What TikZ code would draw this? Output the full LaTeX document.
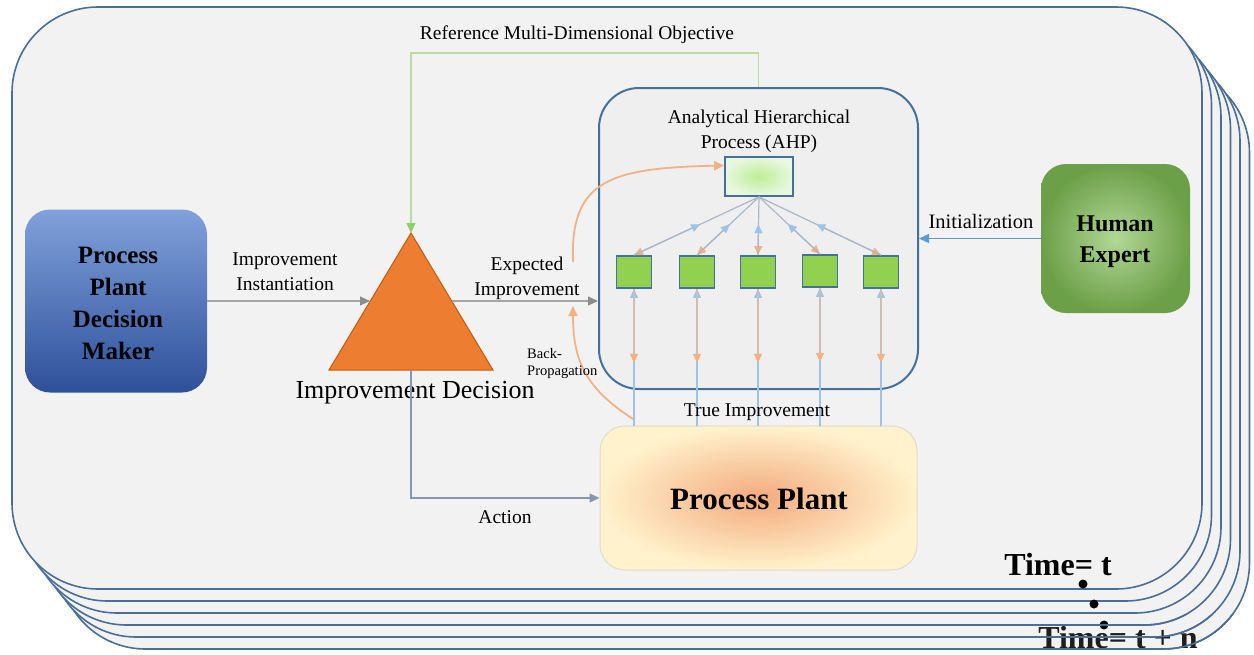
\documentclass[tikz,border=0pt]{standalone}
\usepackage{fontspec}
\setmainfont{Liberation Serif}
\usetikzlibrary{arrows.meta,calc}
\definecolor{bgcol}{HTML}{F2F2F2}
\definecolor{framecol}{HTML}{4A6E96}
\definecolor{ahpborder}{HTML}{41719C}
\definecolor{arrgray}{HTML}{A6A6A6}
\definecolor{arrgraytip}{HTML}{8C8C8C}
\definecolor{actcol}{HTML}{8497B0}
\definecolor{objgreen}{HTML}{B9DBA2}
\definecolor{objarrow}{HTML}{8FCF6A}
\definecolor{orangec}{HTML}{F4B183}
\definecolor{lightblue}{HTML}{9DC3E6}
\definecolor{initblue}{HTML}{5B9BD5}
\definecolor{sqgreen}{HTML}{92D050}
\definecolor{trifill}{HTML}{ED7D31}
\definecolor{triborder}{HTML}{C55A11}
\definecolor{linkgray}{HTML}{AAB7C9}
\definecolor{vorangeline}{HTML}{CDBDB2}
\definecolor{dmtop}{RGB}{128,161,218}
\definecolor{dmbottom}{RGB}{46,80,154}
\begin{document}
\begin{tikzpicture}[x=1pt,y=-1pt,
  frame/.style={draw=framecol, line width=1.6pt, fill=bgcol, rounded corners=86pt},
  frameline/.style={draw=framecol, line width=1.6pt, rounded corners=86pt},
  lbl/.style={font=\fontsize{19.5}{25}\selectfont, align=center, inner sep=0pt},
  boldlbl/.style={font=\bfseries\fontsize{25}{32}\selectfont, align=center, inner sep=0pt},
  tip/.style={-{Triangle[length=10pt,width=9pt,color=#1]}},
  grayarrow/.style={draw=arrgray, line width=1.3pt, tip=arrgraytip},
  actarrow/.style={draw=actcol, line width=1.3pt, tip=actcol},
  objarrowst/.style={draw=objgreen, line width=1.3pt, tip=objarrow},
  initarrow/.style={draw=initblue, line width=1.3pt, tip=initblue},
  orangecurve/.style={draw=orangec, line width=1.8pt, tip=orangec},
  link/.style={draw=linkgray, line width=1.2pt},
  sqbox/.style={draw=ahpborder, line width=1.8pt, fill=sqgreen, minimum width=35pt, minimum height=32pt, inner sep=0pt},
  dot/.style={fill=black, circle, inner sep=0pt, minimum size=9pt}
]
\useasboundingbox (0,0) rectangle (1254,654);
\fill[white] (0,0) rectangle (1254,654);

% stacked frames
\foreach \i in {5,4,3,2,1}
  \draw[frame] ({12+9.5*\i},{7+12*\i}) rectangle ({1202+9.5*\i},{589+12*\i});
\draw[frame] (12,7) rectangle (1202,589);

% main boxes
\node[rounded corners=25pt, top color=dmtop, bottom color=dmbottom,
      minimum width=182pt, minimum height=183pt, inner sep=0pt] (dm) at (116,301) {};
\node[boldlbl] (dmtext) at (118,303) {Process\\Plant\\Decision\\Maker};

\node[draw=ahpborder, line width=2pt, fill={rgb,255:red,239;green,239;blue,239}, rounded corners=40pt,
      minimum width=319pt, minimum height=301pt, inner sep=0pt] (ahp) at (758.5,238.5) {};
\node[lbl] (ahptitle) at (759,131) {Analytical Hierarchical\\Process (AHP)};
\node[draw=ahpborder, line width=1.8pt, inner color={rgb,255:red,190;green,238;blue,150}, outer color={rgb,255:red,232;green,247;blue,222},
      minimum width=68pt, minimum height=39pt, inner sep=0pt] (tb) at (759,176.5) {};

\node[sqbox] (sq1) at (634,272) {};
\node[sqbox] (sq2) at (697,272) {};
\node[sqbox] (sq3) at (758,272) {};
\node[sqbox] (sq4) at (820,271) {};
\node[sqbox] (sq5) at (881,272) {};

\node[draw={rgb,255:red,222;green,222;blue,200}, line width=1pt, rounded corners=25pt,
      inner color={rgb,255:red,244;green,170;blue,125}, outer color={rgb,255:red,255;green,242;blue,204},
      minimum width=317pt, minimum height=144pt, inner sep=0pt] (pp) at (758.5,498) {};
\node[font=\bfseries\fontsize{31}{36}\selectfont, inner sep=0pt] (pptext) at (759,499) {Process Plant};

\node[rounded corners=25pt, inner color={rgb,255:red,178;green,216;blue,150}, outer color={rgb,255:red,108;green,160;blue,72},
      minimum width=149pt, minimum height=149pt, inner sep=0pt] (he) at (1115.5,238.5) {};
\node[font=\bfseries\fontsize{24}{31}\selectfont, align=center, inner sep=0pt] (hetext) at (1115,242) {Human\\Expert};

% triangle
\coordinate (apex) at (411,233);
\coordinate (tbl) at (329,370);
\coordinate (tbr) at (493,370);
\coordinate (triL) at (370,301);
\coordinate (triR) at (452,301);
\coordinate (triB) at (411,370);
\draw[fill=trifill, draw=triborder, line width=1pt, line join=miter] (apex) -- (tbl) -- (tbr) -- cycle;
\node[font=\fontsize{26}{30}\selectfont, inner sep=0pt] (decision) at (415,393) {Improvement Decision};

% connectors
\draw[grayarrow] (dm.east |- triL) -- (triL);
\node[lbl] (instlbl) at (285,272) {Improvement\\Instantiation};
\draw[grayarrow] (triR) -- (triR -| ahp.west);
\node[lbl] (explbl) at (527,278) {Expected\\Improvement};
\draw[actarrow] (triB) |- (pp.west);
\node[lbl] (actlbl) at (505,517) {Action};
\draw[objarrowst] (ahp.north) -- ++(0,-34) -| (apex);
\node[lbl] (objlbl) at (577,35) {Reference Multi-Dimensional Objective};
\draw[initarrow] (he.west) -- (he.west -| ahp.east);
\node[lbl, font=\fontsize{20.5}{25}\selectfont] (initlbl) at (981,221) {Initialization};

% AHP hierarchy links
\foreach \s in {sq1,sq2,sq3,sq4,sq5} {
  \draw[link, -{Triangle[length=9pt,width=8pt,color=orangec]}] (tb.south) -- (\s.north);
  \draw[link, -{Triangle[length=9pt,width=8pt,color=lightblue]}] (\s.north) -- ($(tb.south)!0.47!(\s.north)$);
  \draw[draw=lightblue, line width=1.2pt, -{Triangle[length=9pt,width=8pt,color=lightblue]}] (\s.south |- pp.north) -- (\s.south);
  \draw[draw=vorangeline, line width=1.2pt, -{Triangle[length=9pt,width=8pt,color=orangec]}] (\s.south) -- ($(\s.south)+(0,74)$);
}
\node[lbl] (truelbl) at (757,412) {True Improvement};

% orange feedback curves
\coordinate (expstart) at (573,262);
\coordinate (tbin) at ($(tb.north west)!0.23!(tb.south west)$);
\draw[orangecurve] (expstart) .. controls (570,180) and (610,168) .. (tbin);
\coordinate (bpstart) at (633,419);
\coordinate (bpend) at (573,306);
\draw[orangecurve] (bpstart) .. controls (585,388) and (573,360) .. (bpend);
\node[font=\fontsize{14.5}{17}\selectfont, align=left, inner sep=0pt, anchor=west] (bplbl) at (527,364) {Back-\\Propagation};

% time labels
\node[font=\bfseries\fontsize{32}{36}\selectfont, inner sep=0pt] (t0) at (1058,565) {Time= t};
\node[dot] (d1) at (1083,584) {};
\node[dot] (d2) at (1094,604) {};
\node[dot] (d3) at (1104,625) {};
\node[font=\bfseries\fontsize{32}{36}\selectfont, inner sep=0pt, text={rgb,255:red,30;green,30;blue,30}] (tn) at (1118,638) {Time= t + n};
\begin{scope}
  \clip (1020,614) rectangle (1254,654);
  \foreach \i in {5,4,3,2,1}
    \draw[frameline] ({12+9.5*\i},{7+12*\i}) rectangle ({1202+9.5*\i},{589+12*\i});
\end{scope}
\end{tikzpicture}
\end{document}
